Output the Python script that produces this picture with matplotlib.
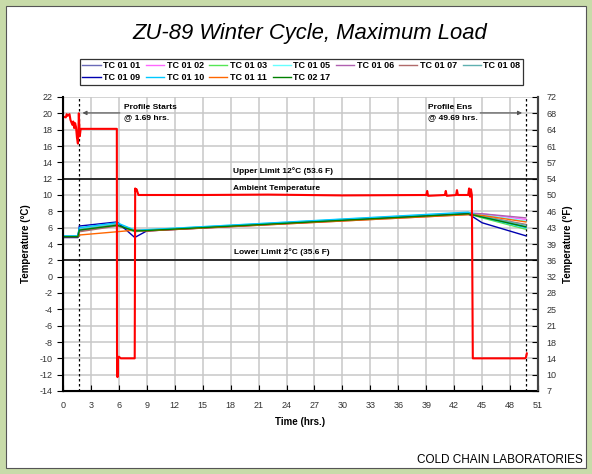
import matplotlib
matplotlib.use("Agg")
import matplotlib.pyplot as plt
from matplotlib.patches import Rectangle

plt.rcParams["font.family"] = ["Liberation Sans", "DejaVu Sans"]
plt.rcParams["axes.unicode_minus"] = False

# ---------------- data ----------------
series_names = ["TC 01 01", "TC 01 02", "TC 01 03", "TC 01 05", "TC 01 06", "TC 01 07",
                "TC 01 08", "TC 01 09", "TC 01 10", "TC 01 11", "TC 02 17"]
series_colors = ["#6a6ab8", "#ff66ff", "#55e655", "#66ffff", "#b060b0", "#b06a6a",
                 "#5fb0b0", "#0000b0", "#00c8ff", "#ff6600", "#008000"]
tc_time = [0, 1.6, 1.75, 5.8, 7.7, 9, 43.5, 45, 49.7]
tc_values = [
    [4.9, 4.9, 5.9, 6.5, 5.6, 5.7, 7.75, 7.3, 6.1],
    [5.0, 5.0, 5.8, 6.4, 5.6, 5.7, 7.8, 7.7, 7.0],
    [4.9, 4.9, 5.7, 6.3, 5.5, 5.65, 7.7, 7.2, 5.8],
    [5.0, 5.0, 5.9, 6.5, 5.7, 5.75, 7.85, 7.6, 6.8],
    [4.9, 4.9, 5.6, 6.3, 5.6, 5.65, 7.75, 7.7, 7.2],
    [4.8, 4.8, 5.5, 6.2, 5.6, 5.6, 7.6, 7.4, 6.4],
    [4.9, 4.9, 5.8, 6.4, 5.6, 5.7, 7.8, 7.4, 6.3],
    [4.8, 4.8, 6.2, 6.7, 4.8, 5.6, 7.7, 6.6, 5.0],
    [5.0, 5.0, 6.0, 6.6, 5.7, 5.75, 7.9, 7.3, 6.0],
    [4.9, 4.9, 5.1, 5.5, 5.7, 5.6, 7.6, 7.5, 6.7],
    [4.9, 4.9, 5.7, 6.3, 5.6, 5.65, 7.7, 7.3, 6.1],
]
amb_time = [0, 0.3, 0.4, 0.5, 0.7, 0.8, 1.0, 1.1, 1.2, 1.3, 1.4, 1.5, 1.6, 1.65, 1.7,
            1.75, 1.8, 1.9, 2.0, 5.78, 5.8, 5.85, 5.9, 6.0, 6.2, 7.7, 7.75, 7.8, 7.9, 8.1,
            15, 22, 30, 39.0, 39.1, 39.2, 41.0, 41.1, 41.2, 42.2, 42.3, 42.4, 43.5,
            43.6, 43.7, 43.8, 43.9, 44.0, 47, 49.6, 49.7, 49.8]
amb_values = [19.6, 19.5, 19.9, 19.7, 19.9, 19.2, 18.6, 19.0, 18.2, 18.8, 18.3, 17.0, 16.3,
              17.5, 20.0, 18.5, 17.2, 18.1, 18.1, 18.1, -9.5, -12.3, -10.0, -9.8, -10.0,
              -10.0, 10.8, 10.5, 10.7, 10.0,
              10.0, 10.05, 9.95, 10.0, 10.5, 9.9, 10.0, 10.5, 9.9, 10.0, 10.6, 10.0, 10.0,
              10.8, 9.8, 10.7, 10.0, -10.0, -10.0, -10.0, -9.9, -9.4]
upper_limit = 12
lower_limit = 2
profile_start = 1.69
profile_end = 49.69
yticks_c = list(range(-14, 23, 2))
yticks_f = [str(round(c * 9 / 5 + 32)) for c in yticks_c]
xticks = list(range(0, 52, 3))

# ---------------- figure ----------------
fig = plt.figure(figsize=(5.92, 4.74), dpi=100)
fig.patch.set_facecolor("#c8dba9")
fig.patches.append(Rectangle((6 / 592, 6 / 474), 580 / 592, 462 / 474, transform=fig.transFigure,
                             facecolor="white", edgecolor="#555555", linewidth=0.8, zorder=-5))

ax = fig.add_axes([63 / 592, 1 - 391 / 474, 475 / 592, 294 / 474])
ax.set_facecolor("white")

handles = []
for name, col, vals in zip(series_names, series_colors, tc_values):
    h, = ax.plot(tc_time, vals, color=col, lw=1.0, label=name, zorder=3)
    handles.append(h)

ax.plot(amb_time, amb_values, color="#ff0000", lw=1.5, zorder=4)

ax.axhline(upper_limit, color="black", lw=1.1, zorder=2)
ax.axhline(lower_limit, color="black", lw=1.1, zorder=2)
ax.axvline(profile_start, color="black", lw=0.9, ls=(0, (2, 2)), zorder=2)
ax.axvline(profile_end, color="black", lw=0.9, ls=(0, (2, 2)), zorder=2)

ax.set_xlim(0, 51)
ax.set_ylim(-14, 22)
ax.set_xticks(xticks)
ax.set_yticks(yticks_c)
ax.grid(True, color="#c8c8c8", lw=1.1, zorder=0)
ax.set_axisbelow(True)
ax.tick_params(axis="x", direction="in", length=4, labelsize=6.5, labelcolor="#333333", pad=7)
ax.tick_params(axis="y", direction="out", length=4, labelsize=6.5, labelcolor="#333333")
for s in ["left", "bottom"]:
    ax.spines[s].set_linewidth(1.5)
ax.spines["top"].set_visible(False)
ax.spines["right"].set_linewidth(1.5)
ax.spines["right"].set_color("#444444")

ax.set_xlabel("Time (hrs.)", fontsize=7, fontweight="bold", labelpad=5)
ax.set_ylabel("Temperature (°C)", fontsize=7, fontweight="bold", labelpad=6)

ax2 = ax.twinx()
ax2.set_ylim(-14, 22)
ax2.set_yticks(yticks_c)
ax2.set_yticklabels(yticks_f)
ax2.tick_params(axis="y", direction="in", length=4, labelsize=6.5, labelcolor="#333333", pad=6)
ax2.spines["top"].set_visible(False)
ax2.spines["right"].set_linewidth(1.5)
ax2.spines["right"].set_color("#444444")
ax2.set_ylabel("Temperature (°F)", fontsize=7, fontweight="bold", labelpad=5)

# annotations
ax.text(18.3, 12.5, "Upper Limit 12°C (53.6 F)", fontsize=6, fontweight="bold", va="bottom")
ax.text(18.3, 10.4, "Ambient Temperature", fontsize=6, fontweight="bold", va="bottom")
ax.text(18.4, 2.5, "Lower Limit 2°C (35.6 F)", fontsize=6, fontweight="bold", va="bottom")
ax.text(6.6, 20.1, "Profile Starts\n@ 1.69 hrs.", fontsize=6, fontweight="bold", va="center",
        linespacing=1.5)
ax.annotate("", xy=(profile_start + 0.1, 20.05), xytext=(6.4, 20.05),
            arrowprops=dict(arrowstyle="-|>", color="#555555", lw=0.8, mutation_scale=6))
ax.text(39.2, 20.1, "Profile Ens\n@ 49.69 hrs.", fontsize=6, fontweight="bold", va="center",
        linespacing=1.5)
ax.annotate("", xy=(profile_end - 0.1, 20.05), xytext=(44.5, 20.05),
            arrowprops=dict(arrowstyle="-|>", color="#555555", lw=0.8, mutation_scale=6))

fig.text(310 / 592, 1 - 33 / 474, "ZU-89 Winter Cycle, Maximum Load", fontsize=15.8,
         style="italic", ha="center", va="center")

order = [0, 7, 1, 8, 2, 9, 3, 10, 4, 5, 6]
leg = fig.legend([handles[i] for i in order], [series_names[i] for i in order],
                 loc="upper center", bbox_to_anchor=(301.5 / 592, 1 - 54 / 474), ncol=7,
                 frameon=True, fancybox=False, edgecolor="black",
                 prop={"weight": "bold", "size": 6.5}, handlelength=2.0, columnspacing=0.6,
                 handletextpad=0.3, borderpad=0.3, labelspacing=0.3)
leg.get_frame().set_linewidth(0.9)

fig.text(583 / 592, 1 - 460 / 474, "COLD CHAIN LABORATORIES", fontsize=8.5, ha="right",
         va="center", family=["Liberation Sans Narrow", "Liberation Sans"])

fig.savefig("out.png", dpi=100, facecolor=fig.get_facecolor())
